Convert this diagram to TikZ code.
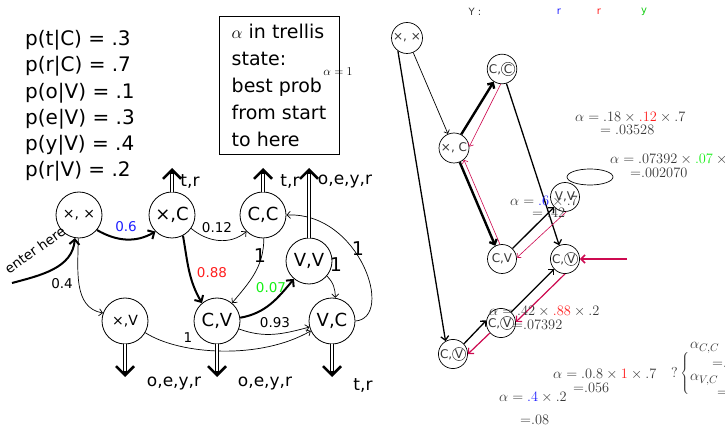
\documentclass[tikz,border=0pt]{standalone}
\usepackage{fontspec}
\usetikzlibrary{arrows.meta,calc,shapes.geometric}
\newfontfamily\dv{DejaVu Sans}
\definecolor{crim}{RGB}{205,10,80}
\definecolor{tgray}{RGB}{55,55,55}
\definecolor{pblue}{RGB}{30,30,255}
\definecolor{pred}{RGB}{255,30,30}
\definecolor{pgreen}{RGB}{20,240,20}
\newcommand\myfs[2]{\fontsize{#1}{#2}\selectfont}
\newcommand\circlet[1]{\tikz[baseline=(cl.base)]\node[circle,draw,line width=0.5pt,inner sep=0.4pt,minimum size=0pt](cl){#1};}
\begin{document}
\begin{tikzpicture}[x=1pt,y=1pt,
  bigc/.style={circle, draw, line width=0.8pt, minimum size=46pt, inner sep=0pt, font=\dv\myfs{18}{20}},
  smc/.style={circle, draw, line width=0.7pt, minimum size=29pt, inner sep=0pt, font=\dv\myfs{12}{14}, text=tgray},
  ethin/.style={line width=0.7pt, -{Straight Barb[length=3.5pt,width=7pt]}},
  ethick/.style={line width=2pt, -{Straight Barb[length=5pt,width=10pt]}},
  elbl/.style={font=\dv\myfs{13.5}{15}, inner sep=0pt},
  onelbl/.style={font=\dv\myfs{19}{21}, inner sep=0pt},
  emit/.style={double, double distance=2.2pt, line width=1pt},
  emittip/.style={line width=2.5pt, -{Straight Barb[length=9pt,width=18pt]}},
  emlbl/.style={font=\dv\myfs{17}{19}, inner sep=0pt},
  rthin/.style={line width=0.7pt, -{Straight Barb[length=3pt,width=6pt]}},
  rmed/.style={line width=1.3pt, -{Straight Barb[length=4pt,width=8pt]}},
  rthick/.style={line width=2.4pt, -{Straight Barb[length=4pt,width=8pt]}},
  redthin/.style={crim, line width=0.6pt, -{Straight Barb[length=3pt,width=6pt]}},
  redmed/.style={crim, line width=1.2pt, -{Straight Barb[length=4pt,width=8pt]}},
  alab/.style={font=\myfs{15.5}{17}, text=tgray, anchor=west, inner sep=0pt},
]
\useasboundingbox (0,0) rectangle (725,-427);

% ---------- left: probabilities and box ----------
\node[align=left, font=\dv\myfs{20}{26.2}, anchor=west, inner sep=0pt] (probs) at (25,-106)
  {p(t|C) = .3\\p(r|C) = .7\\p(o|V) = .1\\p(e|V) = .3\\p(y|V) = .4\\p(r|V) = .2};
\node[draw, line width=0.8pt, align=left, minimum width=120pt,
      minimum height=138pt, inner sep=0pt, font=\dv\myfs{19}{27}] (box) at (279,-85)
  {$\alpha$ in trellis\\state:\\best prob\\from start\\to here};
\node[font=\myfs{12}{14}, inner sep=0pt] (a1) at (338,-72) {$\alpha = 1$};

% ---------- left: state graph ----------
\node[bigc, font=\dv\myfs{14}{16}] (xx) at (79,-215) {×, ×};
\node[bigc] (xC) at (172,-215) {×,C};
\node[bigc] (CC) at (263,-215) {C,C};
\node[bigc] (VV) at (309,-261) {V,V};
\node[bigc, font=\dv\myfs{14}{16}] (xV) at (125,-321) {×,V};
\node[bigc] (CV) at (217,-321) {C,V};
\node[bigc] (VC) at (332,-321) {V,C};

\coordinate (enter) at (12,-283);
\draw[ethick] (enter) to[out=15,in=-95] (xx.-100);
\node[elbl, rotate=35.5] (enterlbl) at (35,-250) {enter here};

\draw[ethick] (xx.-40) to[out=-30,in=-150] (xC.-135);
\node[elbl, text=pblue] (l06) at (126,-227) {0.6};
\draw[ethin] (xx.-92) to[out=-90,in=170] (xV.160);
\node[elbl] (l04) at (62,-284) {0.4};
\draw[ethin] (xC.-35) to[out=-40,in=-140] (CC.-135);
\node[elbl] (l012) at (217,-228) {0.12};
\draw[ethick] (xC.-62) to[out=-80,in=120] (CV.130);
\node[elbl, text=pred] (l088) at (212,-273) {0.88};
\draw[ethin] (CC.-88) to[out=-90,in=50] (CV.50);
\node[onelbl] (l1a) at (260,-256) {1};
\draw[ethick] (CV.8) to[out=10,in=-130] (VV.-130);
\node[elbl, text=pgreen] (l007) at (271,-288) {0.07};
\draw[ethin] (VV.-40) to[out=-45,in=90] (VC.82);
\node[onelbl] (l1b) at (336,-265) {1};
\draw[ethin] (CV.-20) to[out=-20,in=-165] (VC.-165);
\node[elbl] (l093) at (275,-323) {0.93};
\draw[ethin] (VC.east) .. controls (395,-318) and (360,-212) .. (CC.east);
\node[onelbl] (l1c) at (358,-249) {1};
\draw[ethin] (xV.-30) .. controls (180,-355) and (260,-360) .. (VC.-155);
\node[elbl] (l1d) at (188,-338) {1};

% emissions
\coordinate (exC) at (172,-168);
\coordinate (eCC) at (263,-168);
\coordinate (eVV) at (309,-168);
\coordinate (exV) at (125,-377);
\coordinate (eCV) at (217,-377);
\coordinate (eVC) at (332,-377);
\draw[emit] (xC.north) -- ($(exC)+(0,-5)$);
\draw[emittip] ($(exC)+(0,-6)$) -- (exC);
\draw[emit] (CC.north) -- ($(eCC)+(0,-5)$);
\draw[emittip] ($(eCC)+(0,-6)$) -- (eCC);
\draw[emit] (VV.north) -- ($(eVV)+(0,-5)$);
\draw[emittip] ($(eVV)+(0,-6)$) -- (eVV);
\draw[emit] (xV.south) -- ($(exV)+(0,5)$);
\draw[emittip] ($(exV)+(0,6)$) -- (exV);
\draw[emit] (CV.south) -- ($(eCV)+(0,5)$);
\draw[emittip] ($(eCV)+(0,6)$) -- (eCV);
\draw[emit] (VC.south) -- ($(eVC)+(0,5)$);
\draw[emittip] ($(eVC)+(0,6)$) -- (eVC);
\node[emlbl] (txC) at (190,-182) {t,r};
\node[emlbl] (tCC) at (290,-182) {t,r};
\node[emlbl] (tVV) at (345,-182) {o,e,y,r};
\node[emlbl] (txV) at (174,-384) {o,e,y,r};
\node[emlbl] (tCV) at (265,-384) {o,e,y,r};
\node[emlbl] (tVC) at (363,-386) {t,r};

% ---------- right: trellis ----------
\node[font=\dv\myfs{10}{12}, text=tgray, inner sep=0pt] (Yl) at (475,-12) {Y :};
\node[font=\dv\myfs{10}{12}, text=pblue, inner sep=0pt] (Y1) at (559,-12) {r};
\node[font=\dv\myfs{10}{12}, text=pred, inner sep=0pt] (Y2) at (599,-12) {r};
\node[font=\dv\myfs{10}{12}, text=pgreen!85!black, inner sep=0pt] (Y3) at (644,-12) {y};

\node[smc, minimum size=31pt] (Rxx) at (407,-38) {×, ×};
\node[smc] (RCC) at (502,-69) {C,\circlet{C}};
\node[smc, minimum size=30pt] (RxC) at (454,-148) {×, C};
\node[smc] (RVV) at (565,-197) {V,V};
\node[smc] (RCV) at (502,-259) {C,V};
\node[smc] (RCVc) at (565,-259) {C,\circlet{V}};
\node[smc, minimum size=27pt] (RCVl) at (501,-323) {C,\circlet{V}};
\node[smc] (RCVll) at (453,-354) {C,\circlet{V}};
\node[draw, ellipse, line width=0.7pt, minimum width=46pt, minimum height=16pt, inner sep=0pt] (ell) at (590,-177) {};

\draw[rthin] (Rxx) -- (RxC);
\draw[rmed] (Rxx.-125) -- (RCVll.120);
\draw[rthick] (RxC.62) -- (RCC.-123);
\draw[redthin] (RCC.-95) -- (RxC.5);
\draw[rthick] (RxC.-68) -- (RCV.117);
\draw[redthin] (RCV.98) -- (RxC.-50);
\draw[rmed] (RCC.-73) -- (RCVc.113);
\draw[rmed] (RCV.45) -- (RVV.-137);
\draw[redthin] (RVV.-85) -- (RCV.5);
\draw[rmed] (RCVl.47) -- (RCVc.-137);
\draw[redmed] (RCVc.-90) -- (RCVl.4);
\draw[rmed] (RCVll.43) -- (RCVl.170);
\draw[redmed] (RCVl.-138) -- (RCVll.0);
\coordinate (rin) at (627,-259);
\draw[crim, line width=1.6pt, -{Straight Barb[length=4pt,width=8pt]}] (rin) -- (RCVc.east);

% alpha labels
\node[alab] (a18a) at (575,-117) {$\alpha = .18 \times {\color{pred}.12} \times .7$};
\node[alab] (a18b) at (600,-130) {$= .03528$};
\node[alab] (a07a) at (610,-159) {$\alpha = .07392 \times {\color{pgreen}.07} \times .4$};
\node[alab] (a07b) at (630,-173) {${=}.002070$};
\node[alab] (a06a) at (510,-201) {$\alpha = {\color{pblue}.6} \times .7$};
\node[alab] (a06b) at (532,-213) {$= .42$};
\node[alab] (a42a) at (489,-311) {$\alpha = .42 \times {\color{pred}.88} \times .2$};
\node[alab] (a42b) at (512,-325) {${=}.07392$};
\node[alab] (a08a) at (553,-374) {$\alpha = .0.8 \times {\color{pred}1} \times .7$};
\node[alab] (a08b) at (573,-388) {${=}.056$};
\node[alab] (a04a) at (499,-397) {$\alpha = {\color{pblue}.4} \times .2$};
\node[alab] (a04b) at (520,-420) {${=}.08$};
\node[alab] (aq) at (671,-374) {$?\left\{\rule[-18pt]{0pt}{36pt}\right.$};
\node[alab] (aCC) at (690,-348) {$\alpha_{C,C}$};
\node[alab] (aCCv) at (712,-363) {${=}.01058$};
\node[alab] (aVC) at (690,-380) {$\alpha_{V,C}$};
\node[alab] (aVCv) at (717,-392) {${=}.02000$};
\end{tikzpicture}
\end{document}
